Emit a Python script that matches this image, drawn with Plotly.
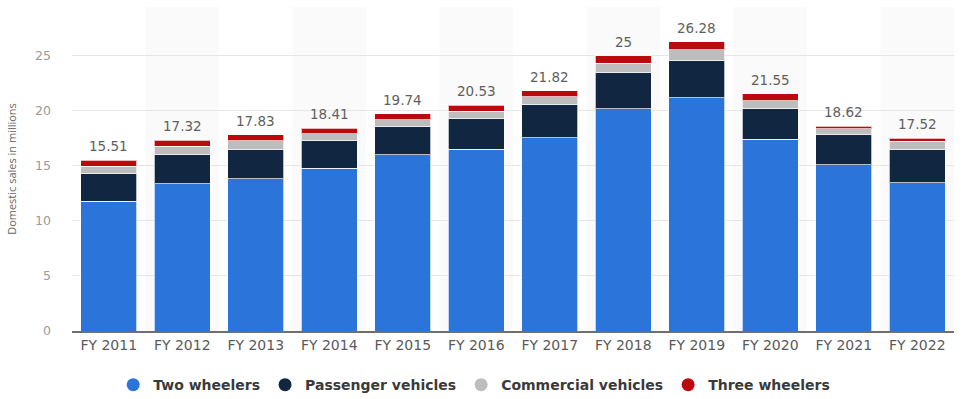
import plotly.graph_objects as go

# Domestic vehicle sales in India by segment, in millions
years = ["FY 2011", "FY 2012", "FY 2013", "FY 2014", "FY 2015", "FY 2016",
         "FY 2017", "FY 2018", "FY 2019", "FY 2020", "FY 2021", "FY 2022"]
two_wheelers = [11.79, 13.38, 13.83, 14.80, 16.00, 16.51, 17.55, 20.21, 21.19, 17.42, 15.12, 13.47]
passenger_vehicles = [2.50, 2.62, 2.67, 2.50, 2.60, 2.79, 3.05, 3.29, 3.38, 2.77, 2.71, 3.07]
commercial_vehicles = [0.68, 0.81, 0.79, 0.63, 0.61, 0.69, 0.71, 0.86, 1.01, 0.72, 0.57, 0.72]
three_wheelers = [0.54, 0.51, 0.54, 0.48, 0.53, 0.54, 0.51, 0.64, 0.70, 0.64, 0.22, 0.26]
totals = [15.51, 17.32, 17.83, 18.41, 19.74, 20.53, 21.82, 25.00, 26.28, 21.55, 18.62, 17.52]

series = [
    ("Two wheelers", two_wheelers, "#2a74da"),
    ("Passenger vehicles", passenger_vehicles, "#112640"),
    ("Commercial vehicles", commercial_vehicles, "#bdbdbd"),
    ("Three wheelers", three_wheelers, "#bb0a0e"),
]

FONT = "DejaVu Sans"

fig = go.Figure()

for name, vals, color in series:
    fig.add_trace(go.Bar(
        x=years, y=vals, name=name, showlegend=False,
        marker=dict(color=color, line=dict(color="rgba(255,255,255,0.7)", width=1)),
        hoverinfo="skip",
    ))

# Circular legend markers
for name, vals, color in series:
    fig.add_trace(go.Scatter(
        x=[None], y=[None], mode="markers", name=name,
        marker=dict(color=color, size=13, symbol="circle"),
    ))

# Total labels above each stack
for yr, tot in zip(years, totals):
    fig.add_annotation(
        x=yr, y=tot, text=f"{tot:g}", showarrow=False,
        yanchor="bottom", yshift=4,
        font=dict(family=FONT, size=13.5, color="#5f5f5f"),
    )

# Alternating column shading
for i in range(1, len(years), 2):
    fig.add_shape(
        type="rect", xref="x", yref="paper",
        x0=i - 0.5, x1=i + 0.5, y0=0, y1=1,
        fillcolor="#fafafa", line_width=0, layer="below",
    )

fig.update_layout(
    width=968, height=399,
    margin=dict(l=72, r=14, t=7, b=68, autoexpand=False),
    barmode="stack", bargap=0.24,
    plot_bgcolor="white", paper_bgcolor="white",
    font=dict(family=FONT, color="#555"),
    legend=dict(
        orientation="h", traceorder="normal",
        x=0.456, xanchor="center", yref="container", y=0.035, yanchor="middle",
        font=dict(family=FONT, size=14, color="#3a3a3a", weight="bold"),
        itemwidth=30, tracegroupgap=0,
    ),
    xaxis=dict(
        showgrid=False, showline=True, linecolor="#6f6f6f", linewidth=1.5,
        ticks="", tickfont=dict(family=FONT, size=14, color="#5a5a5a"),
    ),
    yaxis=dict(
        range=[0, 29.45], tickvals=[0, 5, 10, 15, 20, 25],
        showgrid=True, gridcolor="#e6e6e6", gridwidth=1,
        zeroline=False, showline=False, ticks="",
        ticklabelstandoff=20,
        tickfont=dict(family=FONT, size=12.5, color="#9a9a9a"),
        title=dict(text="Domestic sales in millions", standoff=16,
                   font=dict(family="Liberation Sans Narrow, Open Sans", size=11, color="#666")),
    ),
)

fig.write_html("out.html")
